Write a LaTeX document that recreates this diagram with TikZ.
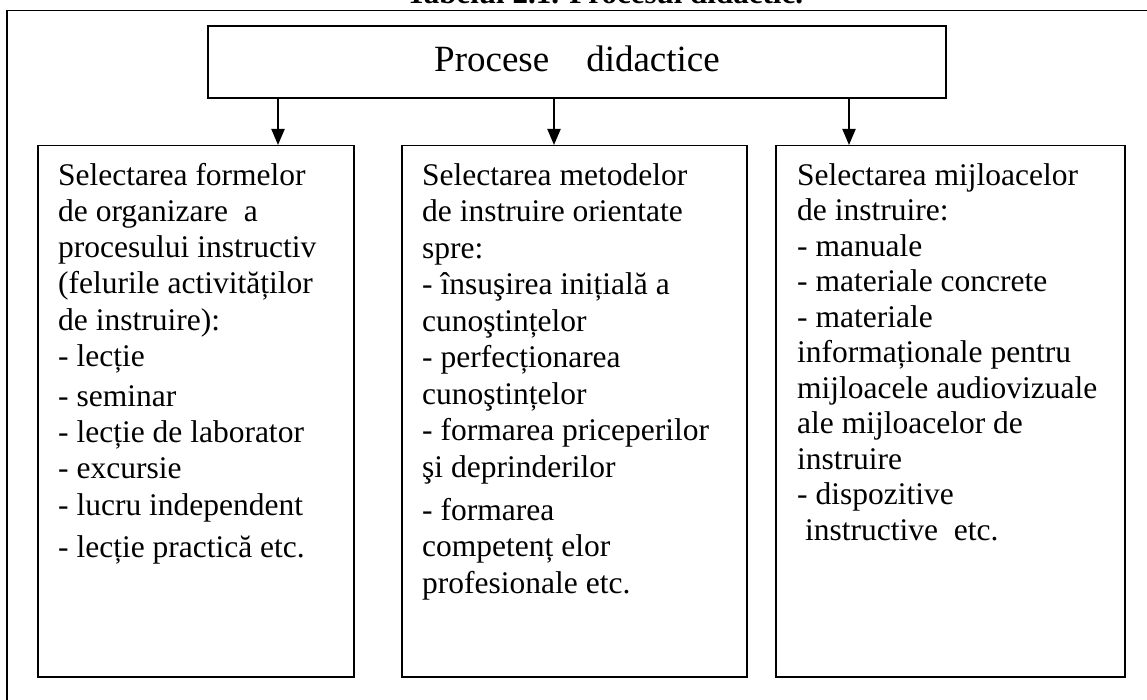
\documentclass[tikz,border=0pt]{standalone}
\usepackage{fontspec}
\setmainfont{Liberation Serif}
\usetikzlibrary{arrows.meta}
\begin{document}
\begin{tikzpicture}[x=1pt,y=-1pt,
  lowbox/.style={draw, line width=1.5pt, rectangle, inner sep=0pt, anchor=north west, minimum height=531pt},
  txt/.style={anchor=north west, inner sep=0pt, align=left},
  arr/.style={line width=2pt, -{Triangle[length=16pt,width=13pt]}}]
\useasboundingbox (0,0) rectangle (1147,700);
\clip (0,0) rectangle (1147,700);
% outer frame (partly outside the picture)
\draw[line width=1.5pt] (7,720) -- (7,10.5) -- (1170,10.5);
% clipped caption
\node[anchor=base, inner sep=0pt, font=\fontsize{31}{36}\selectfont\bfseries] (caption) at (604.5,4) {Tabelul 2.1. Procesul didactic.};
% top box
\node[draw, line width=1.5pt, rectangle, inner sep=0pt, minimum width=738pt, minimum height=72pt] (top) at (577,62) {};
\node[anchor=base, inner sep=0pt, font=\fontsize{37}{42}\selectfont] (toptext) at (577,72) {Procese\hspace{37pt}didactice};
% lower boxes
\node[lowbox, minimum width=316pt] (b1) at (37,145) {};
\node[lowbox, minimum width=345pt] (b2) at (401,145) {};
\node[lowbox, minimum width=349pt] (b3) at (775,145) {};
% texts
\node[txt, font=\fontsize{31.5}{36.2}\selectfont] (t1) at (58,159.7) {\strut Selectarea formelor\\
de organizare\ \ a\\
procesului instructiv\\
(felurile activităților\\
de instruire):\\
- lecție\\[4pt]
- seminar\\
- lecție de laborator\\
- excursie\\
- lucru independent\\[6pt]
- lecție practică etc.};
\node[txt, font=\fontsize{31.5}{36.5}\selectfont] (t2) at (422,159.5) {\strut Selectarea metodelor\\
de instruire orientate\\
spre:\\
- însuşirea inițială a\\
cunoştințelor\\
- perfecționarea\\
cunoştințelor\\
- formarea priceperilor\\
şi deprinderilor\\[6.5pt]
- formarea\\
competenț elor\\
profesionale etc.};
\node[txt, font=\fontsize{31.5}{35.5}\selectfont] (t3) at (797,160.2) {\strut Selectarea mijloacelor\\
de instruire:\\
- manuale\\
- materiale concrete\\
- materiale\\
informaționale pentru\\
mijloacele audiovizuale\\
ale mijloacelor de\\
instruire\\
- dispozitive\\
\hspace{8pt}instructive\ \ etc.};
% arrows
\coordinate (x1) at (278,0);
\coordinate (x2) at (554,0);
\coordinate (x3) at (849,0);
\draw[arr] (x1 |- top.south) -- (x1 |- b1.north);
\draw[arr] (x2 |- top.south) -- (x2 |- b2.north);
\draw[arr] (x3 |- top.south) -- (x3 |- b3.north);
\end{tikzpicture}
\end{document}
